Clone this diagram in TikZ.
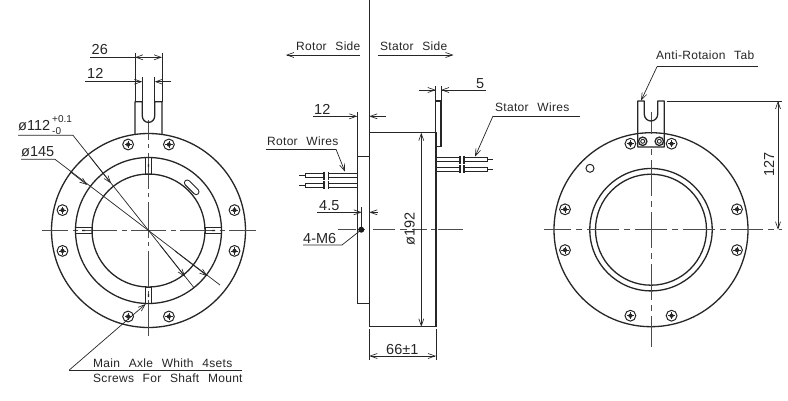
\documentclass[tikz,border=0pt]{standalone}
\usepackage{fontspec}
\setmainfont{Liberation Sans}
\newfontfamily\cadtext[LetterSpace=2.5,WordSpace=2.4]{Liberation Sans}
\usetikzlibrary{arrows.meta}
\tikzset{
  x=1pt,y=-1pt,
  obj/.style={line width=1.3pt,draw=black!85},
  thin line/.style={line width=0.7pt,draw=black!85},
  center line/.style={line width=1pt,draw=black!70},
  hdash/.style={center line,dash pattern=on 35pt off 4.5pt on 5pt off 4.5pt,dash phase=17.5pt},
  rdash/.style={center line,dash pattern=on 32pt off 5pt on 6pt off 5pt,dash phase=16pt},
  tip/.style={-{Straight Barb[length=7pt,width=5pt,line width=0.65pt]}},
  tiptip/.style={{Straight Barb[length=7pt,width=5pt,line width=0.65pt]}-{Straight Barb[length=7pt,width=5pt,line width=0.65pt]}},
  label/.style={inner sep=0pt,anchor=base west,text=black!85},
  words/.style={label,font=\cadtext\fontsize{12}{13}\selectfont},
  nums/.style={label,font=\fontsize{14.5}{16}\selectfont},
  smallnums/.style={label,font=\fontsize{10}{10}\selectfont},
  screw/.pic={
    \draw[line width=1pt,draw=black!85] (0,0) circle[radius=5.4];
    \fill[black!85] (0,0) circle[radius=2.1];
    \draw[line width=0.6pt,draw=black!85] (-3.6,0) -- (3.6,0) (0,-3.6) -- (0,3.6);
  }
}
\begin{document}
\begin{tikzpicture}
\useasboundingbox (0,0) rectangle (788,400);
\fill[white] (0,0) rectangle (788,400);

% ---------- left view
\coordinate (L) at (148.5,230.5);
\draw[obj] (L) circle[radius=97];
\draw[obj] (L) circle[radius=73];
\draw[obj] (L) circle[radius=56.5];
\foreach \a/\b in {-20.4/-86,20.4/-86,-20.4/86,20.4/86,-86/-20.4,-86/20.4,86/-20.4,86/20.4}
  \pic at (148.5+\a,230.5+\b) {screw};
% centre lines
\draw[hdash] (L) -- (42,230.5);
\draw[hdash] (L) -- (256,230.5);
\draw[center line,dash pattern=on 36pt off 4.5pt on 4pt off 4.5pt,dash phase=16.3pt] (148.5,120) -- (148.5,337);
% keyways
\draw[thin line,line width=0.9pt] (145.5,157.5) rectangle (151.5,174)
  (145.5,287) rectangle (151.5,303.5)
  (75.5,227.5) rectangle (92,233.5)
  (205,227.5) rectangle (221.5,233.5);
\fill[black!85] (147.9,164) rectangle (149.1,167) (147.9,294) rectangle (149.1,297)
  (82,229.9) rectangle (85,231.1) (212,229.9) rectangle (215,231.1);
% slot
\draw[line width=6.6pt,line cap=round,black!85] (187.2,182.8) -- (196.2,191.8);
\draw[line width=4.4pt,line cap=round,white] (187.2,182.8) -- (196.2,191.8);
% tab
\draw[obj,line join=round] (135,134.5) -- (135,101.7) -- (142.3,101.7) -- (142.3,116)
  .. controls (142.3,119.6) and (145,122.4) .. (148.5,122.4)
  .. controls (152,122.4) and (154.7,119.6) .. (154.7,116)
  -- (154.7,101.7) -- (162,101.7) -- (162,134.5);
% dim 26
\node[nums] (d26) at (91.5,54) {26};
\draw[thin line] (90,57.3) -- (135,57.3);
\draw[thin line] (135,53) -- (135,101.7) (162,53) -- (162,101.7);
\draw[thin line,tiptip] (135,57.3) -- (162,57.3);
% dim 12
\node[nums] (d12a) at (87,78) {12};
\draw[thin line,tip] (85,81.7) -- (142.3,81.7);
\draw[thin line,tip] (171,81.7) -- (154.7,81.7);
\draw[thin line] (142.3,77) -- (142.3,101.7) (154.7,77) -- (154.7,101.7);
% dia 112
\node[nums] (d112) at (18,130) {ø112};
\node[smallnums] (d112p) at (52,122.5) {+0.1};
\node[smallnums] (d112m) at (52,134) {-0};
\coordinate (a112a) at (111,183.3);
\coordinate (a112b) at (185,276.7);
\draw[thin line] (18,135.3) -- (73,135.3) -- (194,287.7);
\draw[thin line,tip] (90,156.7) -- (a112a);
\draw[thin line,tip] (160,245) -- (a112b);
% dia 145
\node[nums] (d145) at (21,156) {ø145};
\coordinate (a145a) at (87.3,185);
\coordinate (a145b) at (207.3,276);
\draw[thin line] (21,159.3) -- (55,159.3) -- (220,285);
\draw[thin line,tip] (70,171.5) -- (a145a);
\draw[thin line,tip] (175,251) -- (a145b);
% main axle
\coordinate (axle) at (145.7,304);
\draw[thin line] (242,370) -- (69.3,370);
\draw[thin line,tip] (69.3,370) -- (axle);
\node[words] (m1) at (93,367) {Main Axle Whith 4sets};
\node[words] (m2) at (93,382.5) {Screws For Shaft Mount};

% ---------- middle view
\draw[thin line,line width=0.9pt] (369.3,0) -- (369.3,133);
\draw[obj] (369.3,132.7) rectangle (436,326.7);
\draw[obj] (369.3,156.3) -- (357.3,156.3) -- (357.3,303.3) -- (369.3,303.3);
\draw[obj] (435.8,101) rectangle (441,146.7);
\draw[center line] (338,229.7) -- (356,229.7) (358,229.7) -- (365,229.7)
  (373,229.7) -- (395,229.7) (400,229.7) -- (407,229.7) (412,229.7) -- (427,229.7)
  (431,229.7) -- (435,229.7) (438,229.7) -- (463,229.7);
\node[words] (rs) at (296,50) {Rotor Side};
\node[words] (ss) at (380,50) {Stator Side};
\draw[thin line,tip] (360,55) -- (286,55);
\draw[thin line,tip] (378,55) -- (453.5,55);
% dim 12
\node[nums] (d12b) at (314,114) {12};
\draw[thin line,tip] (313,116.3) -- (357.3,116.3);
\draw[thin line,tip] (386,116.3) -- (369.3,116.3);
\draw[thin line] (357.3,112) -- (357.3,156.3);
% dim 5
\node[nums] (d5) at (476,88) {5};
\draw[thin line,tip] (419,90) -- (435.8,90);
\draw[thin line,tip] (485.7,90) -- (441,90);
\draw[thin line] (435.8,86) -- (435.8,101) (441,86) -- (441,101);
% stator wires
\foreach \y in {159.7,169.2} {
  \draw[thin line,line width=1pt] (436,\y-2.2) -- (460,\y-2.2) (436,\y+2.2) -- (460,\y+2.2)
     (464,\y-2.2) -- (487.7,\y-2.2) -- (487.7,\y+2.2) -- (464,\y+2.2);
  \draw[thin line] (487.7,\y) -- (493,\y);
  \draw[line width=1.1pt,black!85] (460,\y-4) -- (460,\y+4) (464,\y-4) -- (464,\y+4);
}
\node[words] (sw) at (495,111) {Stator Wires};
\coordinate (swa) at (475,156.7);
\draw[thin line] (580,116) -- (493,116);
\draw[thin line,tip] (493,116) -- (swa);
% rotor wires
\foreach \y in {175.7,185.3} {
  \draw[thin line,line width=1pt] (357.3,\y-2.2) -- (328.3,\y-2.2) (357.3,\y+2.2) -- (328.3,\y+2.2)
     (324,\y-2.2) -- (305,\y-2.2) -- (305,\y+2.2) -- (324,\y+2.2);
  \draw[thin line] (305,\y) -- (299,\y);
  \draw[line width=1.1pt,black!85] (324,\y-4) -- (324,\y+4) (328.3,\y-4) -- (328.3,\y+4);
}
\node[words] (rw) at (267,145) {Rotor Wires};
\coordinate (rwa) at (345,171.7);
\draw[thin line] (266,149.3) -- (336,149.3);
\draw[thin line,tip] (336,149.3) -- (rwa);
% dim 4.5
\node[nums] (d45) at (319,210) {4.5};
\draw[thin line,tip] (317,212.3) -- (361.7,212.3);
\draw[thin line,tip] (377.7,212.3) -- (369.3,212.3);
\draw[thin line] (361.7,207) -- (361.7,228);
% 4-M6
\coordinate (m6) at (361.3,229.7);
\fill[black!90] (m6) circle[radius=3];
\node[nums] (dm6) at (303,243) {4-M6};
\draw[thin line] (303,245) -- (342,245) -- (m6);
% dim 192
\node[nums,rotate=90,anchor=base west] (d192) at (414.5,246) {ø192};
\draw[thin line,tiptip] (421.3,132.7) -- (421.3,326.7);
% dim 66
\node[nums] (d66) at (386,354) {66±1};
\draw[thin line] (369.3,329) -- (369.3,360) (436,329) -- (436,360);
\draw[thin line,tiptip] (369.3,356) -- (436,356);

% ---------- right view
\draw[obj] (651,229.7) circle[radius=97];
\draw[obj] (651,229.7) circle[radius=61.2];
\draw[obj] (651,229.7) circle[radius=55.5];
\foreach \a/\b in {-20.6/-86,20.6/-86,-20.6/86,20.6/86,-86/-20.4,-86/20.4,86/-20.4,86/20.4}
  \pic at (651+\a,229.7+\b) {screw};
\draw[line width=1pt,black!85] (590,168.3) circle[radius=4];
\draw[rdash] (651,229.7) -- (544,229.7);
\draw[rdash] (651,229.7) -- (782,229.7);
\draw[center line,dash pattern=on 36pt off 5pt on 6pt off 5pt,dash phase=4pt] (651,112) -- (651,346.7);
% tab
\fill[white] (637.7,134) rectangle (664.3,147);
\draw[obj,line join=round] (637.7,147) -- (637.7,101) -- (644.3,101) -- (644.3,114.3)
  .. controls (644.3,118) and (647.3,121) .. (651,121)
  .. controls (654.7,121) and (657.7,118) .. (657.7,114.3)
  -- (657.7,101) -- (664.3,101) -- (664.3,147) -- cycle;
\foreach \x in {642.7,659.3} {
  \draw[line width=1.3pt,black!85] (\x,141.3) circle[radius=4.2];
  \draw[line width=0.9pt,black!85] (\x,141.3) circle[radius=2];
}
\node[words] (at) at (656,59.5) {Anti-Rotaion Tab};
\coordinate (ata) at (641,100.7);
\draw[thin line] (758,66.7) -- (657,66.7);
\draw[thin line,tip] (657,66.7) -- (ata);
\draw[thin line,line width=0.9pt] (666.7,101) -- (781.7,101);
\draw[thin line,tiptip] (778,101) -- (778,229.7);
\node[nums,rotate=90,anchor=base west] (d127) at (774,177) {127};
\end{tikzpicture}
\end{document}
